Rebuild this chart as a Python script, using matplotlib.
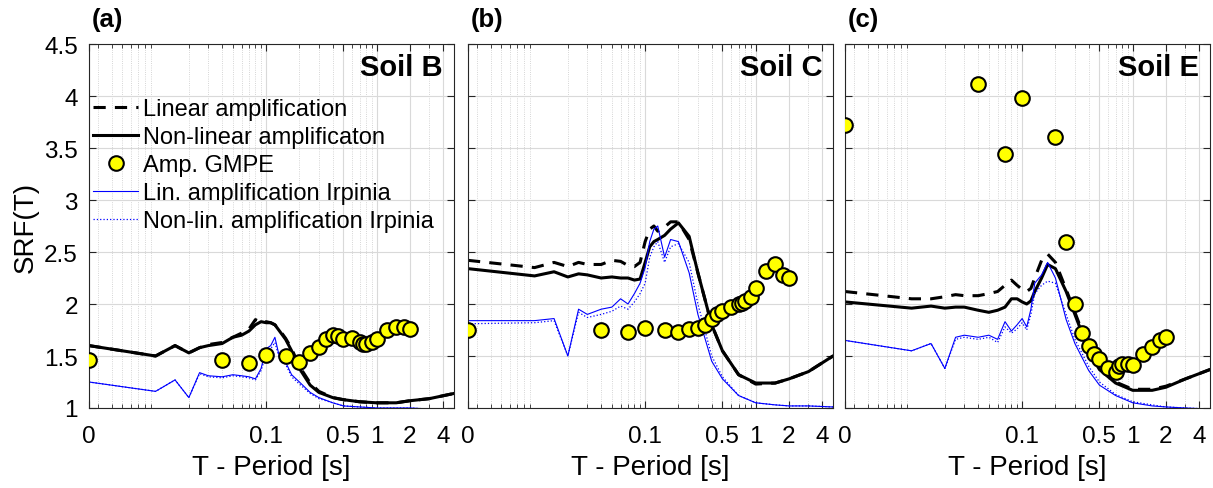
import numpy as np
import matplotlib
matplotlib.use('Agg')
import matplotlib.pyplot as plt
from matplotlib.ticker import FixedLocator, LogLocator, NullFormatter

plt.rcParams['font.family'] = ['Liberation Sans', 'DejaVu Sans']

# periods of the simulated spectra (T=0 drawn at the left edge, 0.0025 s)
T_sim = [0.0025, 0.01, 0.015, 0.02, 0.025, 0.03, 0.04, 0.05, 0.06, 0.07, 0.08, 0.09,
         0.1, 0.11, 0.12, 0.13, 0.15, 0.17, 0.2, 0.25, 0.3, 0.4, 0.5, 0.7, 1.0, 1.5, 2.0, 3.0, 5.0]

# periods of the GMPE amplification (first one = PGA)
T_gmpe = [0.0025, 0.04, 0.07, 0.1, 0.15, 0.2, 0.25, 0.3, 0.35, 0.4, 0.45, 0.5, 0.6, 0.7,
          0.75, 0.8, 0.9, 1.0, 1.25, 1.5, 1.75, 2.0]

# Soil B
lin_B = [1.60, 1.50, 1.60, 1.53, 1.58, 1.61, 1.63, 1.68, 1.72, 1.76, 1.85, 1.82, 1.83, 1.82,
         1.80, 1.76, 1.67, 1.57, 1.40, 1.24, 1.16, 1.10, 1.08, 1.06, 1.05, 1.05, 1.07, 1.09, 1.14]
nl_B = [1.60, 1.50, 1.60, 1.53, 1.58, 1.60, 1.62, 1.68, 1.70, 1.74, 1.80, 1.83, 1.82, 1.82,
        1.80, 1.75, 1.66, 1.55, 1.38, 1.22, 1.15, 1.10, 1.08, 1.06, 1.05, 1.05, 1.07, 1.09, 1.14]
lin_irp_B = [1.25, 1.16, 1.27, 1.10, 1.34, 1.31, 1.30, 1.32, 1.31, 1.30, 1.28, 1.38, 1.57, 1.60,
             1.68, 1.52, 1.44, 1.32, 1.25, 1.15, 1.10, 1.05, 1.02, 1.01, 1.00, 1.00, 1.00, 0.99, 0.98]
nl_irp_B = [1.25, 1.16, 1.27, 1.10, 1.33, 1.30, 1.29, 1.31, 1.30, 1.29, 1.27, 1.36, 1.52, 1.57,
            1.63, 1.50, 1.42, 1.30, 1.23, 1.14, 1.09, 1.05, 1.02, 1.01, 1.00, 1.00, 1.00, 0.99, 0.98]
gmpe_B = [1.46, 1.46, 1.43, 1.51, 1.50, 1.44, 1.53, 1.59, 1.66, 1.70, 1.69, 1.66, 1.67, 1.63,
          1.62, 1.62, 1.63, 1.66, 1.75, 1.78, 1.78, 1.76]

# Soil C
lin_C = [2.42, 2.35, 2.40, 2.36, 2.40, 2.38, 2.38, 2.42, 2.41, 2.37, 2.36, 2.40, 2.60, 2.72,
         2.75, 2.70, 2.74, 2.79, 2.79, 2.62, 2.30, 1.80, 1.55, 1.32, 1.23, 1.24, 1.28, 1.35, 1.50]
nl_C = [2.34, 2.27, 2.31, 2.26, 2.29, 2.28, 2.25, 2.26, 2.25, 2.25, 2.23, 2.24, 2.40, 2.55,
        2.60, 2.62, 2.66, 2.72, 2.78, 2.65, 2.30, 1.80, 1.55, 1.32, 1.24, 1.24, 1.28, 1.35, 1.50]
lin_irp_C = [1.84, 1.84, 1.86, 1.50, 1.95, 1.90, 1.95, 1.97, 2.05, 2.00, 2.10, 2.20, 2.35, 2.60,
             2.72, 2.75, 2.45, 2.62, 2.60, 2.30, 1.90, 1.45, 1.28, 1.12, 1.05, 1.03, 1.02, 1.02, 1.01]
nl_irp_C = [1.81, 1.82, 1.84, 1.50, 1.92, 1.87, 1.90, 1.93, 1.98, 1.95, 2.02, 2.10, 2.20, 2.45,
            2.55, 2.60, 2.40, 2.55, 2.58, 2.40, 2.00, 1.50, 1.30, 1.12, 1.05, 1.03, 1.02, 1.02, 1.01]
gmpe_C = [1.75, 1.75, 1.73, 1.77, 1.75, 1.73, 1.76, 1.77, 1.80, 1.86, 1.90, 1.93, 1.97, 2.00,
          2.01, 2.03, 2.07, 2.15, 2.32, 2.38, 2.28, 2.25]

# Soil E
lin_E = [2.12, 2.05, 2.05, 2.07, 2.09, 2.08, 2.08, 2.10, 2.12, 2.18, 2.23, 2.18, 2.14, 2.12,
         2.15, 2.25, 2.42, 2.48, 2.40, 2.14, 1.92, 1.57, 1.38, 1.25, 1.18, 1.18, 1.21, 1.28, 1.37]
nl_E = [2.02, 1.96, 1.98, 1.96, 1.97, 1.97, 1.94, 1.92, 1.94, 1.97, 2.05, 2.05, 2.02, 2.00,
        2.03, 2.12, 2.25, 2.38, 2.34, 2.12, 1.90, 1.55, 1.37, 1.24, 1.17, 1.17, 1.20, 1.28, 1.37]
lin_irp_E = [1.65, 1.55, 1.62, 1.38, 1.68, 1.70, 1.68, 1.70, 1.66, 1.83, 1.74, 1.80, 1.86, 1.78,
             1.95, 2.20, 2.28, 2.40, 2.25, 1.85, 1.62, 1.36, 1.22, 1.12, 1.05, 1.02, 1.01, 1.00, 0.99]
nl_irp_E = [1.65, 1.55, 1.62, 1.38, 1.66, 1.68, 1.66, 1.68, 1.63, 1.78, 1.72, 1.76, 1.82, 1.75,
            1.90, 2.10, 2.18, 2.22, 2.20, 1.90, 1.66, 1.40, 1.25, 1.13, 1.06, 1.03, 1.01, 1.00, 0.99]
gmpe_E = [3.72, 4.12, 3.44, 3.98, 4.80, 3.61, 2.60, 2.00, 1.72, 1.60, 1.52, 1.47, 1.38, 1.35,
          1.40, 1.42, 1.42, 1.41, 1.52, 1.59, 1.65, 1.68]

panels = [
    ('(a)', 'Soil B', lin_B, nl_B, lin_irp_B, nl_irp_B, gmpe_B),
    ('(b)', 'Soil C', lin_C, nl_C, lin_irp_C, nl_irp_C, gmpe_C),
    ('(c)', 'Soil E', lin_E, nl_E, lin_irp_E, nl_irp_E, gmpe_E),
]

xtick_pos = [0.0025, 0.1, 0.5, 1, 2, 4]
xtick_lab = ['0', '0.1', '0.5', '1', '2', '4']

fig = plt.figure(figsize=(12.13, 4.89), dpi=100)
lefts = [89, 468, 845]
for i, (tag, soil, lin, nl, lin_irp, nl_irp, gmpe) in enumerate(panels):
    ax = fig.add_axes([lefts[i] / 1213, 80 / 489, 365 / 1213, 364 / 489])
    ax.plot(T_sim, lin, '--', color='k', lw=2.2, dashes=(4, 3), label='Linear amplification')
    ax.plot(T_sim, nl, '-', color='k', lw=2.2, label='Non-linear amplificaton')
    ax.plot(T_gmpe, gmpe, 'o', color='yellow', mec='k', mew=1.5, ms=10.5, label='Amp. GMPE',
            clip_on=True, zorder=5)
    ax.plot(T_sim, lin_irp, '-', color='#0000ff', lw=0.8, label='Lin. amplification Irpinia')
    ax.plot(T_sim, nl_irp, ':', color='#0000ff', lw=0.9, label='Non-lin. amplification Irpinia')

    ax.set_xscale('log')
    ax.set_xlim(0.0025, 5)
    ax.set_ylim(1, 4.5)
    ax.xaxis.set_major_locator(FixedLocator(xtick_pos))
    ax.set_xticklabels(xtick_lab)
    ax.xaxis.set_minor_locator(LogLocator(base=10, subs=np.arange(2, 10)))
    ax.xaxis.set_minor_formatter(NullFormatter())
    ax.set_yticks(np.arange(1, 4.6, 0.5))
    if i == 0:
        ax.set_yticklabels(['1', '1.5', '2', '2.5', '3', '3.5', '4', '4.5'])
        ax.set_ylabel('SRF(T)', fontsize=20, labelpad=4)
    else:
        ax.set_yticklabels([])
    ax.tick_params(which='both', direction='in', top=True, right=True, labelsize=17.5,
                   color='#262626')
    ax.tick_params(axis='x', pad=12)
    ax.tick_params(axis='y', pad=8)
    ax.tick_params(which='major', length=5, width=0.8)
    ax.tick_params(which='minor', length=3, width=0.6)
    ax.grid(True, which='major', color='#d9d9d9', lw=0.8)
    ax.grid(True, which='minor', axis='x', color='#c8c8c8', ls=':', lw=0.6)
    ax.set_axisbelow(True)
    for s in ax.spines.values():
        s.set_color('#262626')
        s.set_linewidth(0.8)
    ax.set_xlabel('T - Period [s]', fontsize=20, labelpad=5)
    ax.text(0.008, 1.035, tag, transform=ax.transAxes, fontsize=18.5, fontweight='bold',
            ha='left', va='bottom')
    ax.text(0.97, 0.938, soil, transform=ax.transAxes, fontsize=21, fontweight='bold',
            ha='right', va='center')
    if i == 0:
        ax.legend(loc='upper left', bbox_to_anchor=(0.012, 0.852), frameon=False, fontsize=17,
                  handlelength=1.9, handletextpad=0.2, labelspacing=0.26, borderpad=0,
                  borderaxespad=0)

fig.savefig('out.png', dpi=100)
